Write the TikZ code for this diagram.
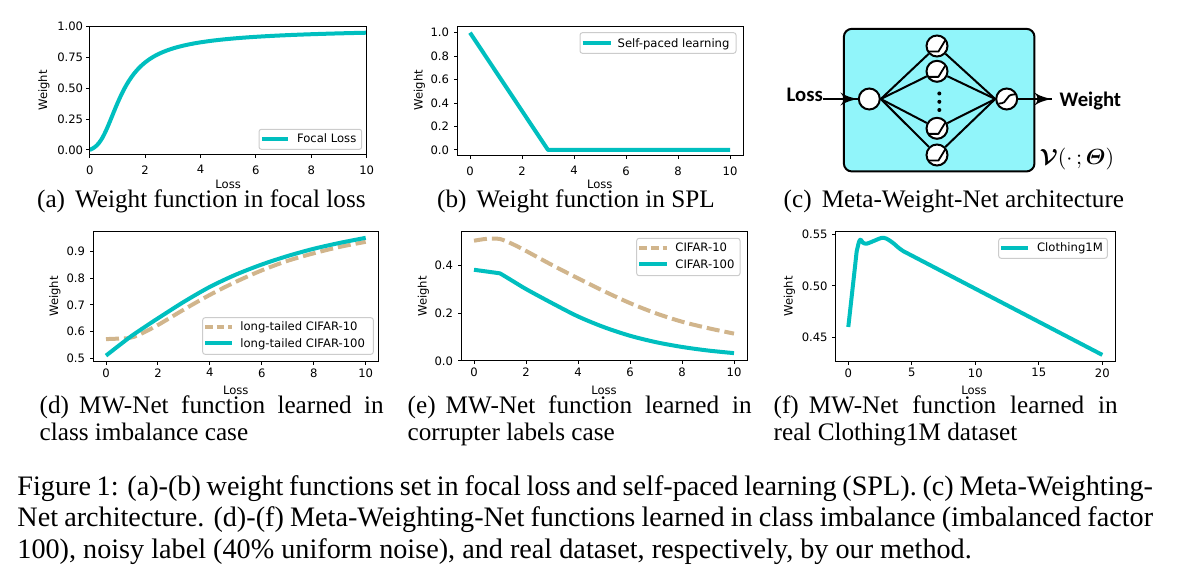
\documentclass[tikz,border=0pt]{standalone}
\usepackage{amsmath}
\usepackage{amssymb}
\usepackage{fontspec}
\setmainfont{Liberation Serif}
\newfontfamily\plotfont{DejaVu Sans}
\newfontfamily\netfont{Carlito}
\usetikzlibrary{arrows}
\usetikzlibrary{decorations.markings}
\usetikzlibrary{positioning}
\tikzset{feed/.style = {line width=1pt, decoration={markings,
                                  mark=at position 1 with {\arrow[scale=1.5]{latex'}}},
                        postaction={decorate}}}
\tikzset{spine/.style = {line width=0.5pt}}
\tikzset{curve/.style = {line width=2pt, line join=round, mcyan}}
\tikzset{dcurve/.style = {line width=2pt, line join=round, mtan, dash pattern=on 6.5pt off 2.5pt}}
\tikzset{tlabel/.style = {font={\plotfont\fontsize{5.8}{7}\selectfont}, inner sep=0}}
\tikzset{legbox/.style = {draw=black!20, fill=white, rounded corners=1.2pt, line width=0.5pt}}
\tikzset{subcap/.style = {font={\fontsize{12.6}{14}\selectfont}, inner sep=0}}
\tikzset{capt/.style = {font={\fontsize{14.1}{16}\selectfont}, inner sep=0}}
\tikzset{neuron/.style = {draw, circle, fill=white, line width=1pt, minimum size=10.5pt, inner sep=0}}
\tikzset{wire/.style = {line width=1pt}}
\tikzset{glyph/.style = {line width=0.9pt, line join=round}}
\tikzset{netlbl/.style = {font={\netfont\bfseries\fontsize{10.35}{12}\selectfont}, inner sep=0}}
\definecolor{mcyan}{rgb}{0, 0.75, 0.75}
\definecolor{mtan}{rgb}{0.82, 0.71, 0.55}
\definecolor{mbox}{rgb}{0.57, 0.96, 0.98}

\begin{document}
\begin{tikzpicture}[x=0.5pt, y=-0.5pt]
  \useasboundingbox (0,0) rectangle (1186,576);

  \begin{scope}[shift={(89.7,150)}, x=13.85pt, y=61.65pt]
    \begin{scope}
      \clip (0,-0.04) rectangle (10,1.004);
      \draw [curve] plot [domain=0:10, samples=120, smooth] (\x, {(\x*\x*\x+0.15*\x)/(\x*\x*\x+0.5*\x*\x+0.15*\x+1.39)});
    \end{scope}
    \draw [spine] (0,-0.04) rectangle (10,1.004);
    \foreach \t in {0,2,...,10}
      \draw [spine] (\t,-0.04) -- ++(0pt,-1.75pt) node (xa\t) [tlabel, below=3.3pt] {\t};
    \foreach \v/\s [count=\i] in {0/0.00,0.25/0.25,0.5/0.50,0.75/0.75,1/1.00}
      \draw [spine] (0,\v) -- ++(-1.75pt,0pt) node (ya\i) [tlabel, left=1.3pt] {\s};
  \end{scope}
  \node (lossa) [tlabel] at (228.2,184) {Loss};
  \node (wta) [tlabel, rotate=90] at (44,90.5) {Weight};
  \draw [legbox] (259,129.3) rectangle (361.7,149.3);
  \draw [curve] (262,138.7) -- (288.3,138.7);
  \node (ka) [tlabel, anchor=base west] at (296.7,142.8) {Focal Loss};
  \node (capa) [subcap, anchor=base] at (201.4,207.3) {(a)\hspace{0.4em}Weight function in focal loss};

  \begin{scope}[shift={(470,150)}, x=13pt, y=58.65pt]
    \draw [curve] (0,1) -- (3,0) -- (10,0);
    \draw [spine] (-0.5,-0.05) rectangle (10.5,1.05);
    \foreach \t in {0,2,...,10}
      \draw [spine] (\t,-0.05) -- ++(0pt,-1.75pt) node (xb\t) [tlabel, below=3.3pt] {\t};
    \foreach \v/\s [count=\i] in {0/0.0,0.2/0.2,0.4/0.4,0.6/0.6,0.8/0.8,1/1.0}
      \draw [spine] (-0.5,\v) -- ++(-1.75pt,0pt) node (yb\i) [tlabel, left=2pt] {\s};
  \end{scope}
  \node (lossb) [tlabel] at (599.8,184) {Loss};
  \node (wtb) [tlabel, rotate=90] at (419.3,90) {Weight};
  \draw [legbox] (580,32.7) rectangle (736,53.3);
  \draw [curve] (582.7,43) -- (610.7,43);
  \node (kb) [tlabel, anchor=base west] at (617.3,47.1) {Self-paced learning};
  \node (capb) [subcap, anchor=base] at (576,207.3) {(b)\hspace{0.4em}Weight function in SPL};

  \node (net) [draw, line width=1pt, fill=mbox, rounded corners=4pt, minimum width=95.3pt, minimum height=71.3pt] at (939.15,100.15) {};
  \node (inp) [neuron] at (869.3,99) {};
  \node (h1) [neuron] at (937,46) {};
  \node (h2) [neuron] at (937,71.3) {};
  \node (h3) [neuron] at (937,128.3) {};
  \node (h4) [neuron] at (937,155) {};
  \node (out) [neuron] at (1006.7,99) {};
  \foreach \n in {h1,h2,h3,h4}
    \draw [wire] (inp.east) -- (\n) -- (out.west);
  \foreach \n in {h1,h2,h3,h4}
    \draw [glyph] ([shift={(-4.3pt,-2.8pt)}]\n.center) -- ++(5pt,0pt) -- ++(3.4pt,5.6pt);
  \draw [glyph] ([shift={(-4.1pt,-2.3pt)}]out.center) .. controls +(5.6pt,0pt) and +(-5.6pt,0pt) .. ([shift={(4.1pt,2.3pt)}]out.center);
  \foreach \d in {93.5,101.8,110}
    \fill (939.3,\d) circle (1pt);
  \node (loss) [netlbl, left=17.3pt of inp, yshift=2pt] {Loss};
  \node (wgt) [netlbl, right=16.75pt of out, inner xsep=3.8pt, yshift=-1.2pt] {Weight};
  \draw [feed] (loss.east |- inp) -- (inp.west);
  \draw [feed] (out.east) -- (wgt.west |- out);
  \node (vlab) [above right=1pt and 2pt of net.south east, inner sep=0, font={\fontsize{10.5}{12}\selectfont}] {$\boldsymbol{\mathcal{V}}(\cdot\,;\boldsymbol{\varTheta})$};
  \node (capc) [subcap, anchor=base] at (953.9,207.3) {(c)\hspace{0.4em}Meta-Weight-Net architecture};

  \begin{scope}[shift={(106,491.55)}, x=12.985pt, y=133.25pt]
    \draw [dcurve] (0,0.572) -- plot [smooth] coordinates {(0.8,0.575) (1.2,0.585) (2,0.625) (3,0.683) (4,0.738) (5,0.787) (6,0.83) (7,0.866) (8,0.894) (9,0.918) (10,0.937)};
    \draw [curve] plot [smooth] coordinates {(0,0.51) (0.5,0.548) (1,0.585) (1.5,0.618) (2,0.65) (3,0.712) (4,0.768) (5,0.814) (6,0.852) (7,0.884) (8,0.911) (9,0.933) (10,0.952)};
    \draw [spine] (-0.5,0.488) rectangle (10.5,0.974);
    \foreach \t in {0,2,...,10}
      \draw [spine] (\t,0.488) -- ++(0pt,-1.75pt) node (xd\t) [tlabel, below=1.5pt] {\t};
    \foreach \v [count=\i] in {0.5,0.6,0.7,0.8,0.9}
      \draw [spine] (-0.5,\v) -- ++(-1.75pt,0pt) node (yd\i) [tlabel, left=2pt] {\v};
  \end{scope}
  \node (lossd) [tlabel] at (235.8,390) {Loss};
  \node (wtd) [tlabel, rotate=90] at (55,296.4) {Weight};
  \draw [legbox] (202.7,317.7) rectangle (373.3,354.3);
  \draw [dcurve, dash pattern=on 3.8pt off 2pt] (205,326.7) -- (231.7,326.7);
  \node (kd1) [tlabel, anchor=base west] at (240,330.8) {long-tailed CIFAR-10};
  \draw [curve] (205,343.3) -- (231.7,343.3);
  \node (kd2) [tlabel, anchor=base west] at (240,347.4) {long-tailed CIFAR-100};
  \node (capd) [subcap, anchor=base west] at (39.3,413.3) {\makebox[172pt][s]{(d)\hspace{0.4em}MW-Net function learned in}};
  \node (capd2) [subcap, anchor=base west] at (39.3,440) {class imbalance case};

  \begin{scope}[shift={(474,361)}, x=13pt, y=119.1pt]
    \draw [dcurve] plot [smooth] coordinates {(0,0.505) (0.5,0.513) (1,0.512) (1.5,0.49) (2,0.462) (3,0.403) (4,0.347) (5,0.293) (6,0.243) (7,0.2) (8,0.165) (9,0.138) (10,0.115)};
    \draw [curve] (0,0.383) -- plot [smooth] coordinates {(1,0.368) (1.5,0.335) (2,0.302) (3,0.243) (4,0.187) (5,0.142) (6,0.106) (7,0.079) (8,0.059) (9,0.044) (10,0.033)};
    \draw [spine] (-0.5,0) rectangle (10.5,0.543);
    \foreach \t in {0,2,...,10}
      \draw [spine] (\t,0) -- ++(0pt,-1.75pt) node (xe\t) [tlabel, below=1.5pt] {\t};
    \foreach \v/\s [count=\i] in {0/0.0,0.2/0.2,0.4/0.4}
      \draw [spine] (-0.5,\v) -- ++(-1.75pt,0pt) node (ye\i) [tlabel, left=2pt] {\s};
  \end{scope}
  \node (losse) [tlabel] at (604,390) {Loss};
  \node (wte) [tlabel, rotate=90] at (423.3,296.4) {Weight};
  \draw [legbox] (636.7,238.3) rectangle (740,275.7);
  \draw [dcurve, dash pattern=on 3.8pt off 2pt] (639.3,247.7) -- (666.7,247.7);
  \node (ke1) [tlabel, anchor=base west] at (675,251.8) {CIFAR-10};
  \draw [curve] (639.3,264.3) -- (666.7,264.3);
  \node (ke2) [tlabel, anchor=base west] at (675,268.4) {CIFAR-100};
  \node (cape) [subcap, anchor=base west] at (407.3,413.3) {\makebox[172pt][s]{(e)\hspace{0.4em}MW-Net function learned in}};
  \node (cape2) [subcap, anchor=base west] at (407.3,440) {corrupter labels case};

  \begin{scope}[shift={(848.3,800.8)}, x=6.35pt, y=515pt]
    \draw [curve] (0,0.46) -- plot [smooth] coordinates {(0.66,0.5335) (0.85,0.543) (0.98,0.5448) (1.15,0.5418) (1.45,0.5409) (1.9,0.543) (2.6,0.5464) (3,0.5458) (3.5,0.5418) (4,0.5365) (4.35,0.5335)} -- (20,0.4329);
    \draw [spine] (-1,0.4265) rectangle (21,0.5527);
    \foreach \t in {0,5,...,20}
      \draw [spine] (\t,0.4265) -- ++(0pt,-1.75pt) node (xf\t) [tlabel, below=1.5pt] {\t};
    \foreach \v/\s [count=\i] in {0.45/0.45,0.5/0.50,0.55/0.55}
      \draw [spine] (-1,\v) -- ++(-1.75pt,0pt) node (yf\i) [tlabel, left=2pt] {\s};
  \end{scope}
  \node (lossf) [tlabel] at (974,390) {Loss};
  \node (wtf) [tlabel, rotate=90] at (789.3,296.4) {Weight};
  \draw [legbox] (998.7,238.3) rectangle (1107.3,258.3);
  \draw [curve] (1001,247.7) -- (1028.3,247.7);
  \node (kf) [tlabel, anchor=base west] at (1036.7,251.8) {Clothing1M};
  \node (capf) [subcap, anchor=base west] at (773.3,413.3) {\makebox[172pt][s]{(f)\hspace{0.4em}MW-Net function learned in}};
  \node (capf2) [subcap, anchor=base west] at (773.3,440) {real Clothing1M dataset};

  \node (fig1) [capt, anchor=base west] at (17,495) {\makebox[567.8pt][s]{Figure 1: (a)-(b) weight functions set in focal loss and self-paced learning (SPL). (c) Meta-Weighting-}};
  \node (fig2) [capt, anchor=base west] at (17,526.7) {\makebox[567.8pt][s]{Net architecture. (d)-(f) Meta-Weighting-Net functions learned in class imbalance (imbalanced factor}};
  \node (fig3) [capt, anchor=base west] at (17,558.3) {100), noisy label (40\% uniform noise), and real dataset, respectively, by our method.};
\end{tikzpicture}
\end{document}
